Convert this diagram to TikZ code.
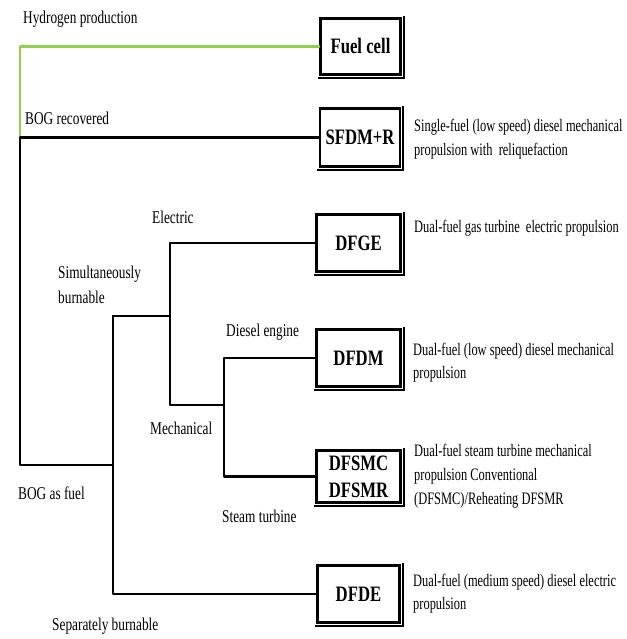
\documentclass[tikz,border=0pt]{standalone}
\usepackage{fontspec}
\setmainfont[FakeStretch=0.74]{Liberation Serif}
\newfontfamily\descfont[FakeStretch=0.71]{Liberation Serif}
\newfontfamily\boxfont[FakeStretch=0.76]{Liberation Serif}
\begin{document}
\begin{tikzpicture}[x=1pt,y=-1pt,
  conn/.style={line width=2.2pt, line cap=round, line join=round},
  hconn/.style={conn, draw={rgb,255:red,146;green,208;blue,80}},
  sysbox/.style={draw, line width=2.6pt, fill=white, inner sep=0pt,
    font=\boxfont\bfseries\fontsize{22}{27}\selectfont, align=center},
  boxshade/.style={line width=2pt, line cap=butt},
  lbl/.style={anchor=west, inner sep=0pt, font=\fontsize{18}{25}\selectfont, align=left},
  desc/.style={anchor=west, inner sep=0pt, font=\descfont\fontsize{17.5}{23.5}\selectfont, align=left}]
\useasboundingbox (0,0) rectangle (626,639);

% boxes
\node[sysbox, minimum width=80pt, minimum height=56pt] (fc) at (360.5,46.5) {Fuel cell};
\node[sysbox, minimum width=80pt, minimum height=58pt] (sf) at (360,137.5) {SFDM+R};
\node[sysbox, minimum width=84pt, minimum height=57pt] (ge) at (358.5,243) {DFGE};
\node[sysbox, minimum width=84pt, minimum height=57pt] (dm) at (358.5,358) {DFDM};
\node[sysbox, minimum width=84pt, minimum height=52pt] (sm) at (358.5,476.5) {DFSMC\\DFSMR};
\node[sysbox, minimum width=82pt, minimum height=57pt] (de) at (358.5,594) {DFDE};

% heavier bottom and right edges of the boxes
\foreach \n in {fc,sf,ge,dm,sm,de}
  \draw[boxshade] ([xshift=-1.3pt,yshift=-1.8pt]\n.south west) -- ([xshift=1.8pt,yshift=-1.8pt]\n.south east)
                  -- ([xshift=1.8pt,yshift=1.3pt]\n.north east);

% junctions
\coordinate (j0) at (20,138);
\coordinate (j1) at (20,465);
\coordinate (a0) at (113,465);
\coordinate (a1) at (113,316);
\coordinate (b0) at (170,316);
\coordinate (b1) at (170,405);
\coordinate (c0) at (224,405);
\coordinate (c1) at (224,476.5);

% connectors
\draw[hconn] (fc.west) -| (j0);
\draw[conn] (sf.west) -| (j1) -- (a0);
\draw[conn] (a1) |- (de.west);
\draw[conn] (a1) -- (b0);
\draw[conn] (ge.west) -| (b1) -- (c0);
\draw[conn] (dm.west) -| (c1) -- (sm.west);

% labels
\node[lbl] (l1) at (23,19) {Hydrogen production};
\node[lbl] (l2) at (25,118) {BOG recovered};
\node[lbl] (l3) at (152,217) {Electric};
\node[lbl] (l4) at (58,284.5) {Simultaneously\\burnable};
\node[lbl] (l5) at (226,332) {Diesel engine};
\node[lbl] (l6) at (150,428) {Mechanical};
\node[lbl] (l7) at (222,516) {Steam turbine};
\node[lbl] (l8) at (18,493) {BOG as fuel};
\node[lbl] (l9) at (52,626) {Separately burnable};

% descriptions
\node[desc] (d1) at (414,139) {Single-fuel (low speed) diesel mechanical\\propulsion with\ \ reliquefaction};
\node[desc] (d2) at (414,228) {Dual-fuel gas turbine\ \ electric propulsion};
\node[desc] (d3) at (413,362.5) {Dual-fuel (low speed) diesel mechanical\\propulsion};
\node[desc, font=\descfont\fontsize{17.5}{24}\selectfont] (d4) at (414,476) {Dual-fuel steam turbine mechanical\\propulsion Conventional\\(DFSMC)/Reheating DFSMR};
\node[desc] (d5) at (413,593.5) {Dual-fuel (medium speed) diesel electric\\propulsion};
\end{tikzpicture}
\end{document}
